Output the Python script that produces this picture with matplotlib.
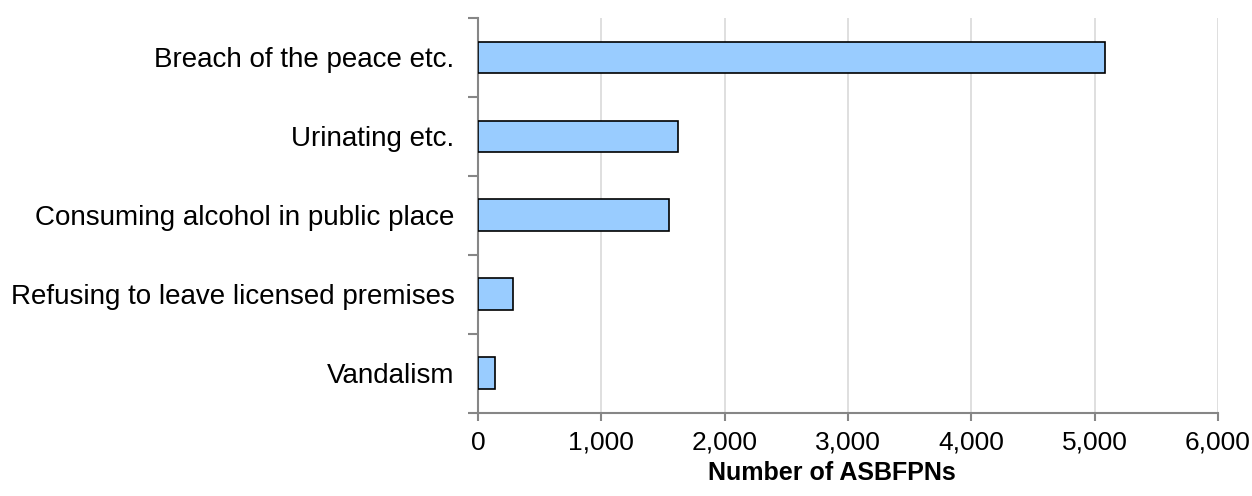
import matplotlib
matplotlib.use("Agg")
import matplotlib.pyplot as plt
from matplotlib.ticker import FuncFormatter, FixedLocator

plt.rcParams["font.family"] = ["Liberation Sans", "DejaVu Sans"]

# ---------- Data (top to bottom) ----------
categories = [
    "Breach of the peace etc.",
    "Urinating etc.",
    "Consuming alcohol in public place",
    "Refusing to leave licensed premises",
    "Vandalism",
]
counts = [5085, 1620, 1550, 283, 141]
x_ticks = [0, 1000, 2000, 3000, 4000, 5000, 6000]

AXIS_GREY = "#868686"

fig = plt.figure(figsize=(12.52, 4.96), dpi=100)
ax = fig.add_axes([0.3818, 0.168, 0.5910, 0.796])

ypos = list(range(len(categories)))[::-1]
ax.barh(ypos, counts, height=0.4, color="#99ccff",
        edgecolor="black", linewidth=1.2, zorder=3)

ax.set_xlim(0, 6000)
ax.set_ylim(-0.5, len(categories) - 0.5)

ax.xaxis.set_major_locator(FixedLocator(x_ticks))
ax.xaxis.set_major_formatter(FuncFormatter(lambda v, p: f"{int(v):,}"))
ax.grid(axis="x", color="#d9d9d9", linewidth=1.2, zorder=0)

ax.set_yticks(ypos)
ax.set_yticklabels(categories)
ax.yaxis.set_minor_locator(FixedLocator([i - 0.5 for i in range(len(categories) + 1)]))
ax.tick_params(axis="y", which="major", length=0, pad=17, labelsize=20)
ax.tick_params(axis="y", which="minor", length=7, width=1.5, color=AXIS_GREY)
ax.tick_params(axis="x", which="major", length=6, width=1.5, color=AXIS_GREY,
               labelsize=19, pad=7)

for s in ("top", "right"):
    ax.spines[s].set_visible(False)
for s in ("left", "bottom"):
    ax.spines[s].set_color(AXIS_GREY)
    ax.spines[s].set_linewidth(1.5)

ax.set_xlabel("Number of ASBFPNs", fontsize=18, fontweight="bold")
ax.xaxis.set_label_coords(0.478, -0.123)

fig.savefig("out.png", dpi=100)
